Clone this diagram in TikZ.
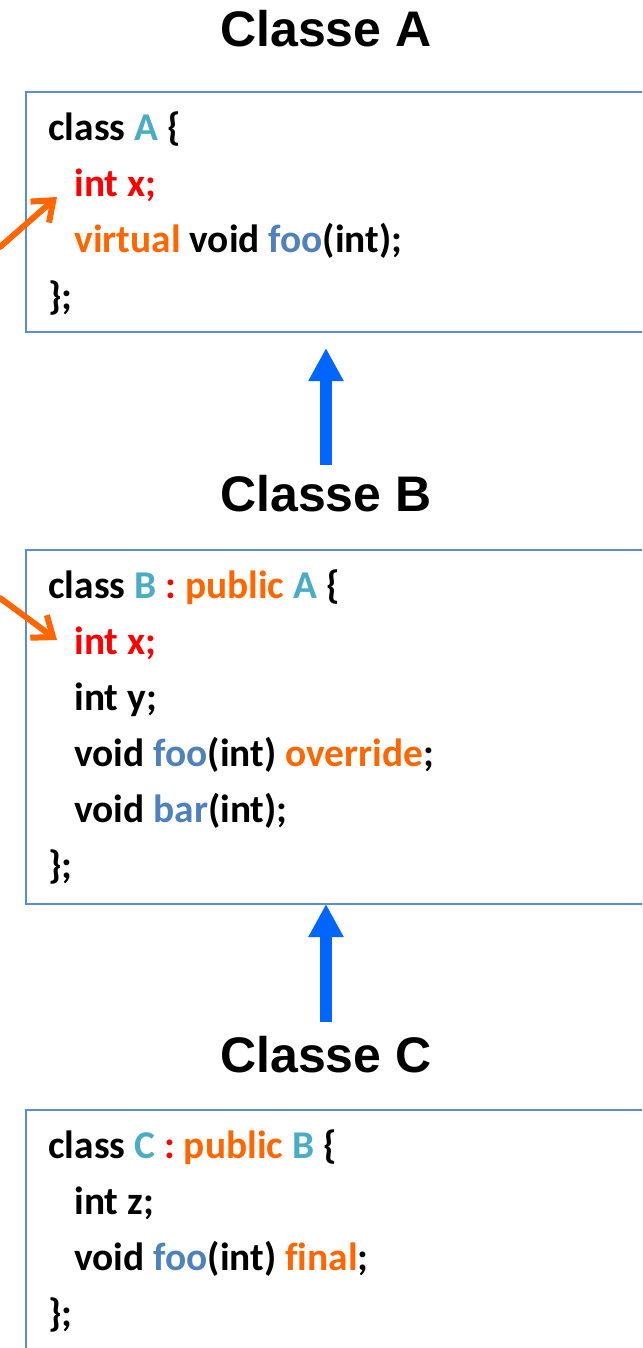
\documentclass[tikz,border=0pt]{standalone}
\usepackage{fontspec}
\usetikzlibrary{arrows.meta}
\newfontfamily\codefont{Carlito}[Ligatures=NoCommon]
\newfontfamily\titlefont{Liberation Sans}
\definecolor{kwred}{RGB}{255,0,0}
\definecolor{kworange}{RGB}{255,102,0}
\definecolor{clsaqua}{RGB}{75,172,198}
\definecolor{fnblue}{RGB}{79,129,189}
\definecolor{frameblue}{RGB}{91,141,214}
\definecolor{arrowblue}{RGB}{0,102,255}
\tikzset{
  classtitle/.style={font=\titlefont\bfseries\fontsize{25}{30}\selectfont, inner sep=0pt, anchor=base},
  classbox/.style={draw=frameblue, line width=1pt, outer sep=0pt, inner sep=0pt, anchor=north west, minimum width=350pt},
  codeline/.style={font=\codefont\bfseries\fontsize{19.7}{24}\selectfont, inner sep=0pt, anchor=base west},
  inherit/.style={arrowblue, line width=6pt, -{Triangle[length=16.5pt,width=16.5pt]}},
  hides/.style={kworange, line width=3pt, line cap=round, line join=round, -{Straight Barb[length=9pt,width=14pt]}}
}
\begin{document}
\begin{tikzpicture}[x=0.5pt,y=-0.5pt]
\useasboundingbox (0,0) rectangle (642,1348);
\clip (0,0) rectangle (642,1348);
% titles
\node[classtitle] (titleA) at (326,47) {Classe A};
\node[classtitle] (titleB) at (326,511) {Classe B};
\node[classtitle] (titleC) at (326,1072) {Classe C};
% boxes
\node[classbox, minimum height=120pt] (boxA) at (26,92) {};
\node[classbox, minimum height=177pt] (boxB) at (26,550) {};
\node[classbox, minimum height=150pt] (boxC) at (26,1110) {};
% class A
\node[codeline] (a1) at (48,141) {class \textcolor{clsaqua}{A} \{};
\node[codeline] (a2) at (74,197) {\textcolor{kwred}{int x;}};
\node[codeline] (a3) at (74,253) {\textcolor{kworange}{virtual} void \textcolor{fnblue}{foo}(int);};
\node[codeline] (a4) at (48,309) {\};};
% class B
\node[codeline] (b1) at (48,598) {class \textcolor{clsaqua}{B} \textcolor{kwred}{:} \textcolor{kworange}{public} \textcolor{clsaqua}{A} \{};
\node[codeline] (b2) at (74,654) {\textcolor{kwred}{int x;}};
\node[codeline] (b3) at (74,710) {int y;};
\node[codeline] (b4) at (74,766) {void \textcolor{fnblue}{foo}(int) \textcolor{kworange}{override};};
\node[codeline] (b5) at (74,822) {void \textcolor{fnblue}{bar}(int);};
\node[codeline] (b6) at (48,878) {\};};
% class C
\node[codeline] (c1) at (48,1158) {class \textcolor{clsaqua}{C} \textcolor{kwred}{:} \textcolor{kworange}{public} \textcolor{clsaqua}{B} \{};
\node[codeline] (c2) at (74,1214) {int z;};
\node[codeline] (c3) at (74,1270) {void \textcolor{fnblue}{foo}(int) \textcolor{kworange}{final};};
\node[codeline] (c4) at (48,1326) {\};};
% inheritance
\draw[inherit, shorten <=4.5pt, shorten >=8pt] (titleB.north) -- (titleB.north |- boxA.south);
\draw[inherit, shorten <=6.5pt] (titleC.north) -- (titleC.north |- boxB.south);
% the two x members
\coordinate (fromA) at (0,247);
\coordinate (fromB) at (0,598);
\draw[hides] (fromA) -- ([xshift=-8.5pt,yshift=0pt]a2.base west);
\draw[hides] (fromB) -- ([xshift=-8.5pt,yshift=7pt]b2.base west);
\end{tikzpicture}
\end{document}
